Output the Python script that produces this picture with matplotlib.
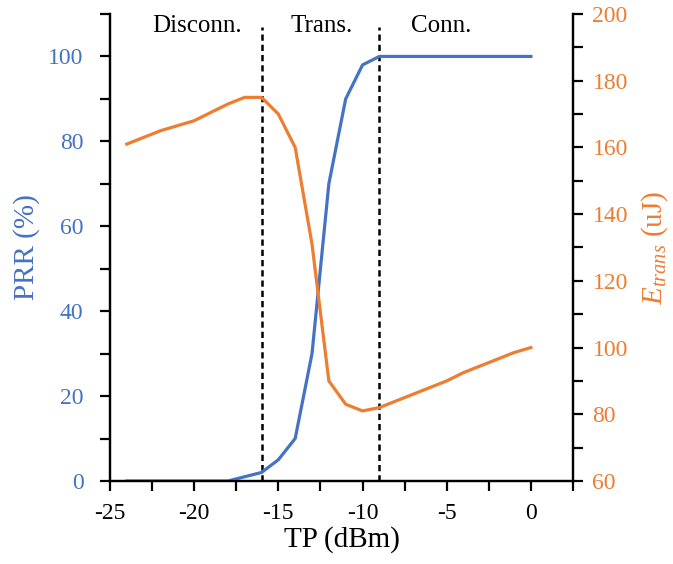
import numpy as np
import matplotlib.pyplot as plt
from matplotlib.ticker import MultipleLocator

plt.rcParams['font.family'] = ['Liberation Serif', 'DejaVu Serif']
plt.rcParams['mathtext.fontset'] = 'custom'
plt.rcParams['mathtext.it'] = 'Liberation Serif:italic'
plt.rcParams['mathtext.rm'] = 'Liberation Serif'
plt.rcParams['axes.unicode_minus'] = False

# transmit power sweep
tp = np.arange(-24, 1, 1)
prr = [0, 0, 0, 0, 0, 0, 0, 1, 2, 5, 10, 30, 70, 90, 98,
       100, 100, 100, 100, 100, 100, 100, 100, 100, 100]
e_trans = [161, 163, 165, 166.5, 168, 170.5, 173, 175, 175, 170, 160, 131, 90,
           83, 81, 82, 84, 86, 88, 90, 92.5, 94.5, 96.5, 98.5, 100]

bounds = [-16, -9]
regions = ['Disconn.', 'Trans.', 'Conn.']
region_x = [-19.8, -12.4, -5.3]

blue = '#4472C4'
orange = '#ED7D31'

fig = plt.figure(figsize=(6.73, 5.64), dpi=100)
ax = fig.add_axes([0.1634, 0.1472, 0.688, 0.828])
ax2 = ax.twinx()

ax.plot(tp, prr, color=blue, lw=2.3, zorder=3)
ax2.plot(tp, e_trans, color=orange, lw=2.3, zorder=3)

for b in bounds:
    ax.plot([b, b], [0, 107], color='black', lw=1.8, ls=(0, (2.5, 1.6)), zorder=2)
for name, xc in zip(regions, region_x):
    ax.text(xc, 107.2, name, ha='center', va='center', fontsize=18)

ax.set_xlim(-25, 2.5)
ax.set_ylim(0, 110)
ax2.set_ylim(60, 200)

ax.xaxis.set_major_locator(MultipleLocator(5))
ax.xaxis.set_minor_locator(MultipleLocator(2.5))
ax.yaxis.set_major_locator(MultipleLocator(20))
ax.yaxis.set_minor_locator(MultipleLocator(10))
ax2.yaxis.set_major_locator(MultipleLocator(20))
ax2.yaxis.set_minor_locator(MultipleLocator(10))

for a in (ax, ax2):
    a.spines['top'].set_visible(False)
    for s in a.spines.values():
        s.set_linewidth(1.6)
    a.tick_params(which='both', direction='out', length=7, width=1.6, labelsize=17)

ax.tick_params(axis='y', colors='black', labelcolor=blue, pad=12)
ax2.tick_params(axis='y', colors='black', labelcolor=orange, pad=7)
ax.tick_params(axis='x', pad=9)

ax.set_xlabel('TP (dBm)', fontsize=21, labelpad=1)
ax.set_ylabel('PRR (%)', fontsize=21, color=blue, labelpad=6)
ax2.set_ylabel(r'$E_{trans}$ (uJ)', fontsize=21, color=orange, labelpad=8)

fig.savefig('out.png', dpi=100)
